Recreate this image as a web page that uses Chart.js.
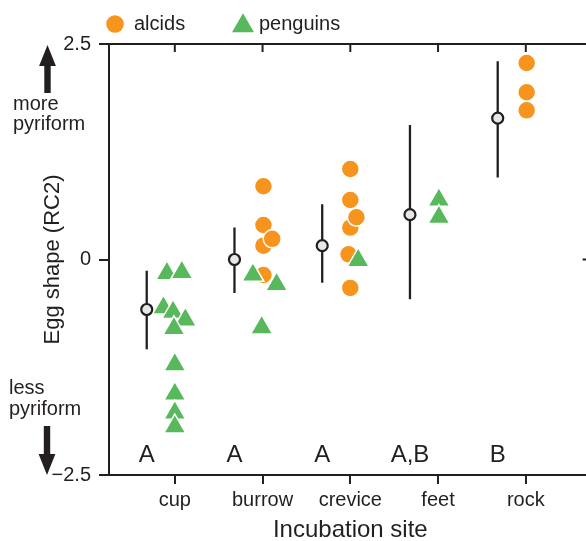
<!DOCTYPE html>
<html>
<head>
<meta charset="utf-8">
<title>Egg shape by incubation site</title>
<script src="https://cdn.jsdelivr.net/npm/chart.js@4.4.1/dist/chart.umd.min.js"></script>
<style>
  html, body { margin: 0; padding: 0; background: #ffffff; overflow: hidden; }
  #wrap { position: relative; width: 600px; height: 541px; }
</style>
</head>
<body>
<div id="wrap"><canvas id="chart" width="600" height="541"></canvas></div>
<script>
// ---- data -------------------------------------------------------------
const sites = ['cup', 'burrow', 'crevice', 'feet', 'rock'];
const groupLetters = ['A', 'A', 'A', 'A,B', 'B'];

// per-site mean egg shape (RC2) with its interval
const siteMean = [-0.58, 0.00, 0.16, 0.52, 1.64];
const siteLow  = [-1.04, -0.39, -0.27, -0.46, 0.95];
const siteHigh = [-0.13, 0.37, 0.64, 1.56, 2.30];

// alcid species
const alcidSite  = ['burrow', 'burrow', 'burrow', 'burrow', 'burrow',
                    'crevice', 'crevice', 'crevice', 'crevice', 'crevice', 'crevice',
                    'rock', 'rock', 'rock'];
const alcidShape = [0.85, 0.40, 0.16, 0.24, -0.18,
                    1.05, 0.69, 0.37, 0.49, 0.06, -0.33,
                    2.28, 1.94, 1.73];
// sideways dodge of overlapping species (in site widths)
const alcidDodge = [0.01, 0.01, 0.01, 0.11, 0.01,
                    0.00, 0.00, 0.00, 0.07, -0.02, 0.00,
                    0.01, 0.01, 0.01];

// penguin species
const penguinSite  = ['cup', 'cup', 'cup', 'cup', 'cup', 'cup', 'cup', 'cup', 'cup', 'cup',
                      'burrow', 'burrow', 'burrow',
                      'crevice',
                      'feet', 'feet'];
const penguinShape = [-0.16, -0.15, -0.56, -0.61, -0.70, -0.80, -1.22, -1.56, -1.78, -1.94,
                      -0.18, -0.29, -0.79,
                      -0.01,
                      0.69, 0.49];
const penguinDodge = [-0.09, 0.08, -0.13, -0.02, 0.12, -0.01, 0.00, 0.00, 0.00, 0.00,
                      -0.11, 0.16, -0.01,
                      0.09,
                      0.01, 0.01];

// ---- styling ----------------------------------------------------------
const INK = '#231f20';
const ORANGE = '#f7941d';
const GREEN = '#57b85c';
const FONT = "'Liberation Sans', Arial, Helvetica, sans-serif";
const MEAN_SHIFT = -0.32;      // means sit left of each species column
const LETTER_LEVEL = -2.35;    // baseline of the group letters, in RC2 units

const toPoints = (siteArr, shapeArr, dodgeArr) =>
  shapeArr.map((v, i) => ({ x: sites.indexOf(siteArr[i]) + dodgeArr[i], y: v }));

const meanPoints = siteMean.map((m, i) => ({ x: i + MEAN_SHIFT, y: m }));
const barPoints = [];
siteMean.forEach((m, i) => {
  barPoints.push({ x: i + MEAN_SHIFT, y: siteLow[i] });
  barPoints.push({ x: i + MEAN_SHIFT, y: siteHigh[i] });
  barPoints.push({ x: i + MEAN_SHIFT, y: null });
});

// frame: top border with inward ticks, right border with a tick at 0
const framePlugin = {
  id: 'frame',
  afterDraw(chart) {
    const { ctx, chartArea: a, scales: { x, y } } = chart;
    ctx.save();
    ctx.strokeStyle = INK;
    ctx.lineWidth = 2;
    ctx.beginPath();
    ctx.moveTo(a.left, a.top);
    ctx.lineTo(a.right, a.top);
    ctx.lineTo(a.right, a.bottom);
    sites.forEach((s, i) => {
      const px = x.getPixelForValue(i);
      ctx.moveTo(px, a.top);
      ctx.lineTo(px, a.top + 8);
    });
    const y0 = y.getPixelForValue(0);
    ctx.moveTo(a.right, y0);
    ctx.lineTo(a.right - 9, y0);
    ctx.stroke();

    // group letters
    ctx.fillStyle = INK;
    ctx.font = '24px ' + FONT;
    ctx.textAlign = 'center';
    ctx.textBaseline = 'alphabetic';
    groupLetters.forEach((t, i) => {
      ctx.fillText(t, x.getPixelForValue(i + MEAN_SHIFT), y.getPixelForValue(LETTER_LEVEL));
    });
    ctx.restore();
  }
};

// "more / less pyriform" cues with arrows beside the value axis
const cuePlugin = {
  id: 'cues',
  afterDraw(chart) {
    const { ctx, scales: { y } } = chart;
    const top = y.getPixelForValue(2.5), bottom = y.getPixelForValue(-2.5);
    const cx = 47.5, head = 21, headHalf = 8.4, shaftHalf = 3.2;
    ctx.save();
    ctx.fillStyle = INK;
    // up arrow
    ctx.beginPath();
    ctx.moveTo(cx, top + 1);
    ctx.lineTo(cx + headHalf, top + 1 + head);
    ctx.lineTo(cx + shaftHalf, top + 1 + head);
    ctx.lineTo(cx + shaftHalf, 93);
    ctx.lineTo(cx - shaftHalf, 93);
    ctx.lineTo(cx - shaftHalf, top + 1 + head);
    ctx.lineTo(cx - headHalf, top + 1 + head);
    ctx.closePath();
    ctx.fill();
    // down arrow
    const dx = 47;
    ctx.beginPath();
    ctx.moveTo(dx, bottom);
    ctx.lineTo(dx + headHalf, bottom - head);
    ctx.lineTo(dx + shaftHalf, bottom - head);
    ctx.lineTo(dx + shaftHalf, 426);
    ctx.lineTo(dx - shaftHalf, 426);
    ctx.lineTo(dx - shaftHalf, bottom - head);
    ctx.lineTo(dx - headHalf, bottom - head);
    ctx.closePath();
    ctx.fill();

    ctx.font = '20px ' + FONT;
    ctx.textAlign = 'left';
    ctx.textBaseline = 'alphabetic';
    ctx.fillText('more', 13, 110);
    ctx.fillText('pyriform', 13, 129.5);
    ctx.fillText('less', 9, 394);
    ctx.fillText('pyriform', 9, 415);
    ctx.restore();
  }
};

// legend row above the plot
const legendPlugin = {
  id: 'speciesLegend',
  afterDraw(chart) {
    const { ctx } = chart;
    const items = [
      { ds: chart.data.datasets[0], mx: 115, my: 24, tx: 134 },
      { ds: chart.data.datasets[1], mx: 243, my: 26, tx: 259 }
    ];
    ctx.save();
    items.forEach(it => {
      const ds = it.ds;
      ctx.fillStyle = ds.backgroundColor;
      ctx.beginPath();
      if (ds.pointStyle === 'triangle') {
        const r = ds.pointRadius;
        for (let k = 0; k < 3; k++) {
          const ang = k * 2 * Math.PI / 3;
          const px = it.mx + Math.sin(ang) * r, py = it.my - Math.cos(ang) * r;
          if (k === 0) ctx.moveTo(px, py); else ctx.lineTo(px, py);
        }
        ctx.closePath();
      } else {
        ctx.arc(it.mx, it.my, 8.8, 0, Math.PI * 2);
      }
      ctx.fill();
      ctx.fillStyle = INK;
      ctx.font = '20px ' + FONT;
      ctx.textAlign = 'left';
      ctx.textBaseline = 'middle';
      ctx.fillText(ds.label, it.tx, 24);
    });
    ctx.restore();
  }
};

new Chart(document.getElementById('chart'), {
  type: 'scatter',
  data: {
    datasets: [
      {
        label: 'alcids',
        data: toPoints(alcidSite, alcidShape, alcidDodge),
        pointStyle: 'circle',
        pointRadius: 9,
        pointHoverRadius: 9,
        backgroundColor: ORANGE,
        borderColor: '#ffffff',
        borderWidth: 1.5,
        order: 3
      },
      {
        label: 'penguins',
        data: toPoints(penguinSite, penguinShape, penguinDodge),
        pointStyle: 'triangle',
        pointRadius: 12.7,
        pointHoverRadius: 12.7,
        backgroundColor: GREEN,
        borderColor: '#ffffff',
        borderWidth: 1.5,
        order: 2
      },
      {
        type: 'line',
        label: 'interval',
        data: barPoints,
        borderColor: INK,
        borderWidth: 2.3,
        pointRadius: 0,
        spanGaps: false,
        fill: false,
        order: 1
      },
      {
        label: 'site mean',
        data: meanPoints,
        pointStyle: 'circle',
        pointRadius: 5.5,
        pointHoverRadius: 5.5,
        backgroundColor: '#e6e7e8',
        borderColor: INK,
        borderWidth: 2.2,
        order: 0
      }
    ]
  },
  options: {
    responsive: false,
    animation: false,
    events: [],
    layout: { autoPadding: false, padding: { top: 44, right: 8.4, left: 0, bottom: 0 } },
    plugins: {
      legend: { display: false },
      tooltip: { enabled: false }
    },
    scales: {
      x: {
        type: 'linear',
        min: -0.75,
        max: 4.75,
        afterBuildTicks: s => { s.ticks = sites.map((_, i) => ({ value: i })); },
        afterFit: s => { s.height = 66; s.paddingLeft = 0; s.paddingRight = 0; },
        ticks: {
          callback: v => sites[v],
          color: INK,
          font: { size: 20, family: FONT },
          padding: 4,
          maxRotation: 0,
          autoSkip: false
        },
        grid: { drawOnChartArea: false, tickLength: 9, color: INK, lineWidth: 2 },
        border: { display: true, color: INK, width: 2 },
        title: {
          display: true,
          text: 'Incubation site',
          color: INK,
          font: { size: 24, family: FONT },
          padding: { top: 0, bottom: -3.4 }
        }
      },
      y: {
        type: 'linear',
        min: -2.5,
        max: 2.5,
        afterBuildTicks: s => { s.ticks = [-2.5, 0, 2.5].map(v => ({ value: v })); },
        afterFit: s => { s.width = 109; },
        ticks: {
          callback: v => (v < 0 ? '\u2212' + Math.abs(v) : String(v)),
          color: INK,
          font: { size: 20, family: FONT },
          padding: 8
        },
        grid: { drawOnChartArea: false, tickLength: 10, color: INK, lineWidth: 2 },
        border: { display: true, color: INK, width: 2 },
        title: {
          display: true,
          text: 'Egg shape (RC2)',
          color: INK,
          font: { size: 22, family: FONT },
          padding: { top: 39.3, bottom: 0 }
        }
      }
    }
  },
  plugins: [framePlugin, cuePlugin, legendPlugin]
});
</script>
</body>
</html>
